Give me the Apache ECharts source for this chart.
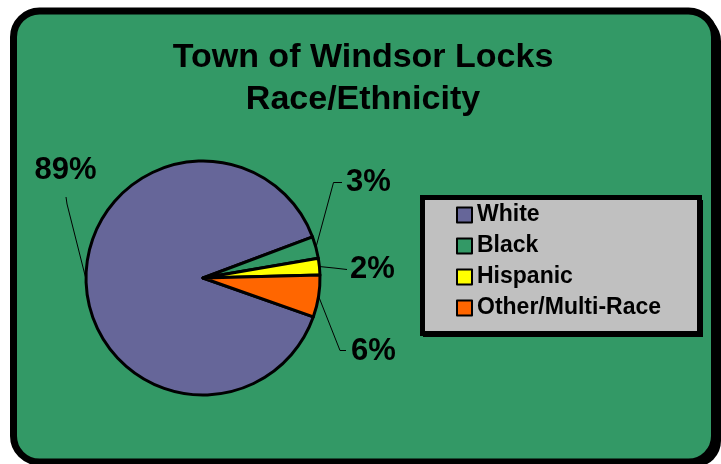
<!DOCTYPE html>
<html>
<head>
<meta charset="utf-8">
<script src="https://cdn.jsdelivr.net/npm/echarts@6/dist/echarts.min.js"></script>
<style>
  html, body { margin: 0; padding: 0; background: #ffffff; }
  #chart { width: 721px; height: 464px; }
</style>
</head>
<body>
<div id="chart"></div>
<script>
// ---- data ----
const titleLines = ['Town of Windsor Locks', 'Race/Ethnicity'];
const categories = ['White', 'Black', 'Hispanic', 'Other/Multi-Race'];
const shares = [88.9, 3.0, 2.3, 5.8];          // percent of population
const sliceColors = ['#666699', '#339966', '#FFFF00', '#FF6600'];

const FONT = '"Liberation Sans", Arial, Helvetica, sans-serif';

// label placement (styling only): anchor of text, elbow and end of leader line
const labelSpots = [
  { x: 65.5, y: 170, align: 'center', elbow: [67, 204], end: [66, 197] },
  { x: 346, y: 182, align: 'left', elbow: [333.5, 182.5], end: [342, 182.5] },
  { x: 350, y: 269.5, align: 'left', elbow: [334, 268], end: [347, 269.5] },
  { x: 351, y: 351, align: 'left', elbow: [340, 350.5], end: [346, 350.5] }
];

const chart = echarts.init(document.getElementById('chart'), null, { renderer: 'canvas' });

const option = {
  animation: false,
  backgroundColor: 'transparent',
  graphic: {
    elements: [
      // frame shadow
      { type: 'rect', z: 0, silent: true,
        shape: { x: 17, y: 15, width: 704, height: 452, r: 26 },
        style: { fill: '#000' } },
      // green panel with black rounded border
      { type: 'rect', z: 1, silent: true,
        shape: { x: 13.5, y: 11, width: 701, height: 451, r: 26 },
        style: { fill: '#339966', stroke: '#000', lineWidth: 7 } },
      // legend box shadow
      { type: 'rect', z: 1, silent: true,
        shape: { x: 423, y: 200, width: 280, height: 137 },
        style: { fill: '#000' } },
      // legend box
      { type: 'rect', z: 1, silent: true,
        shape: { x: 422.5, y: 197.5, width: 277, height: 136 },
        style: { fill: '#C0C0C0', stroke: '#000', lineWidth: 5 } }
    ]
  },
  title: {
    text: titleLines.join('\n'),
    left: 363,
    top: 37,
    textAlign: 'center',
    padding: 0,
    textStyle: {
      fontFamily: FONT, fontSize: 34, fontWeight: 'bold',
      lineHeight: 42, color: '#000'
    }
  },
  legend: {
    orient: 'vertical',
    left: 456,
    top: 203.5,
    padding: 0,
    itemWidth: 15,
    itemHeight: 15,
    itemGap: 8,
    icon: 'rect',
    selectedMode: false,
    data: categories,
    itemStyle: { borderColor: '#000', borderWidth: 2 },
    textStyle: {
      fontFamily: FONT, fontSize: 23, fontWeight: 'bold', color: '#000'
    }
  },
  series: [{
    type: 'pie',
    center: [203, 278],
    radius: 117,
    startAngle: -19.4,
    clockwise: true,
    avoidLabelOverlap: false,
    emphasis: { disabled: true },
    itemStyle: { borderColor: '#000', borderWidth: 3 },
    label: {
      show: true,
      position: 'outside',
      formatter: p => Math.round(p.value) + '%',
      fontFamily: FONT, fontSize: 31, fontWeight: 'bold', color: '#000'
    },
    labelLine: {
      show: true, length: 20, length2: 10, smooth: false,
      lineStyle: { color: '#000', width: 1 }
    },
    labelLayout: function (p) {
      const s = labelSpots[p.dataIndex];
      const start = (p.labelLinePoints && p.labelLinePoints[0]) || s.elbow;
      return {
        x: s.x, y: s.y, align: s.align, verticalAlign: 'middle',
        labelLinePoints: [start, s.elbow, s.end]
      };
    },
    data: categories.map((name, i) => ({
      name: name,
      value: shares[i],
      itemStyle: { color: sliceColors[i] }
    }))
  }]
};

chart.setOption(option);
</script>
</body>
</html>
